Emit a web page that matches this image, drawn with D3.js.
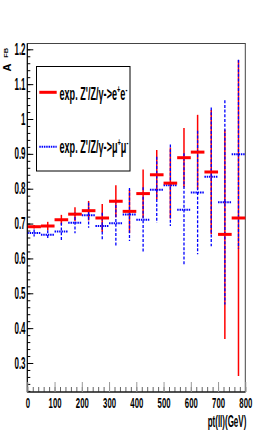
<!DOCTYPE html>
<html>
<head>
<meta charset="utf-8">
<script src="https://cdn.jsdelivr.net/npm/d3@7"></script>
<style>
  html, body { margin: 0; padding: 0; background: #fff; }
  text { font-family: "Liberation Sans", Arial, sans-serif; }
</style>
</head>
<body>
<script>
// bin edges in pt(ll) [GeV]
const binEdges = [0, 50, 100, 150, 200, 250, 300, 350, 400, 450, 500, 550, 600, 650, 700, 750, 800];

// A_FB for Z'/Z/gamma -> e+e-
const eeValues = [0.691, 0.693, 0.711, 0.727, 0.737, 0.716, 0.764, 0.735, 0.786, 0.840, 0.816, 0.889, 0.905, 0.848, 0.669, 0.716];
const eeErrors = [0.005, 0.012, 0.014, 0.020, 0.028, 0.040, 0.046, 0.062, 0.069, 0.071, 0.102, 0.085, 0.107, 0.178, 0.300, 0.453];

// A_FB for Z'/Z/gamma -> mu+mu-
const mmValues = [0.673, 0.668, 0.677, 0.702, 0.724, 0.693, 0.701, 0.726, 0.711, 0.797, 0.810, 0.740, 0.789, 0.834, 0.761, 0.899];
const mmErrors = [0.010, 0.013, 0.025, 0.030, 0.036, 0.038, 0.066, 0.076, 0.093, 0.095, 0.117, 0.162, 0.177, 0.199, 0.293, 0.271];

const xTicks = [0, 100, 200, 300, 400, 500, 600, 700, 800];
const yTicks = [0.3, 0.4, 0.5, 0.6, 0.7, 0.8, 0.9, 1.0, 1.1, 1.2];

const width = 273, height = 436;
const sx = 0.5; // horizontal squeeze of the text

const svg = d3.select('body').append('svg')
  .attr('width', width)
  .attr('height', height);

svg.append('rect').attr('width', width).attr('height', height).attr('fill', '#fff');

const x = d3.scaleLinear().domain([0, 800]).range([27.3, 245.3]);
const y = d3.scaleLinear().domain([0.2168, 1.2166]).range([392, 43.5]);

// frame
svg.append('rect')
  .attr('x', x(0)).attr('y', y.range()[1])
  .attr('width', x(800) - x(0)).attr('height', y.range()[0] - y.range()[1])
  .attr('fill', 'none').attr('stroke', '#444').attr('stroke-width', 1);

const bins = binEdges.slice(0, -1).map((lo, i) => ({
  lo, hi: binEdges[i + 1], c: (lo + binEdges[i + 1]) / 2,
  ee: eeValues[i], eeErr: eeErrors[i],
  mm: mmValues[i], mmErr: mmErrors[i]
}));

// red vertical errors
svg.append('g').selectAll('line').data(bins).join('line')
  .attr('x1', d => x(d.c)).attr('x2', d => x(d.c))
  .attr('y1', d => y(d.ee + d.eeErr)).attr('y2', d => y(d.ee - d.eeErr))
  .attr('stroke', '#ff0000').attr('stroke-width', 1.5);

// blue vertical errors
svg.append('g').selectAll('line').data(bins).join('line')
  .attr('x1', d => x(d.c)).attr('x2', d => x(d.c))
  .attr('y1', d => y(d.mm + d.mmErr)).attr('y2', d => y(d.mm - d.mmErr))
  .attr('stroke', '#0000ff').attr('stroke-width', 1.3)
  .attr('stroke-dasharray', '3,1.7');

// blue bin bars
svg.append('g').selectAll('line').data(bins).join('line')
  .attr('x1', d => x(d.lo)).attr('x2', d => x(d.hi))
  .attr('y1', d => y(d.mm)).attr('y2', d => y(d.mm))
  .attr('stroke', '#0000ff').attr('stroke-width', 2)
  .attr('stroke-dasharray', '1.5,0.8');

// red bin bars
svg.append('g').selectAll('line').data(bins).join('line')
  .attr('x1', d => x(d.lo)).attr('x2', d => x(d.hi))
  .attr('y1', d => y(d.ee)).attr('y2', d => y(d.ee))
  .attr('stroke', '#ff0000').attr('stroke-width', 3);

// y axis, ticks pointing inward
const yMinor = d3.range(0.22, 1.2001, 0.02);
svg.append('g')
  .attr('transform', `translate(${x(0)},0)`)
  .call(d3.axisLeft(y).tickValues(yMinor).tickSize(-3).tickFormat(''))
  .call(g => g.select('.domain').remove())
  .call(g => g.selectAll('line').attr('stroke', '#000'));
const yAx = svg.append('g')
  .attr('transform', `translate(${x(0)},0)`)
  .call(d3.axisLeft(y).tickValues(yTicks).tickSize(-6).tickPadding(0)
    .tickFormat(d => d3.format('.1f')(d).replace(/\.0$/, '')));
yAx.select('.domain').attr('stroke', '#000').attr('d', `M0,${y.range()[0]}V${y.range()[1]}`);
yAx.selectAll('text')
  .attr('font-size', 16).attr('font-weight', 'bold').attr('fill', '#000')
  .attr('x', -3.5)
  .attr('transform', `scale(${sx},1)`);

// x axis
const xMinor = d3.range(0, 801, 20);
svg.append('g')
  .attr('transform', `translate(0,${y.range()[0]})`)
  .call(d3.axisBottom(x).tickValues(xMinor).tickSize(-5).tickFormat(''))
  .call(g => g.select('.domain').remove())
  .call(g => g.selectAll('line').attr('stroke', '#666'));
const xAx = svg.append('g')
  .attr('transform', `translate(0,${y.range()[0]})`)
  .call(d3.axisBottom(x).tickValues(xTicks).tickSize(-10).tickPadding(5).tickFormat(d3.format('d')));
xAx.select('.domain').attr('stroke', '#000').attr('d', `M${x(0)},0H${x(800)}`);
xAx.selectAll('line').attr('stroke', '#999');
xAx.selectAll('text')
  .attr('font-size', 15.5).attr('font-weight', 'bold').attr('fill', '#000')
  .attr('transform', `scale(${sx},1)`);

// x title
svg.append('text')
  .attr('transform', `translate(${x(800) + 1},427) scale(${sx},1)`)
  .attr('text-anchor', 'end')
  .attr('font-size', 16).attr('font-weight', 'bold')
  .text('pt(ll)(GeV)');

// y title A_FB (rotated)
svg.append('text')
  .attr('transform', 'translate(10.5,71.5) rotate(-90)')
  .attr('font-size', 11).attr('font-weight', 'bold')
  .text('A');
svg.append('text')
  .attr('transform', 'translate(8.3,57.7) rotate(-90)')
  .attr('font-size', 4.8).attr('font-weight', 'bold')
  .attr('textLength', 10).attr('lengthAdjust', 'spacingAndGlyphs')
  .text('FB');

// legend
const legendEntries = [
  { label: 'exp. Z\'/Z/\u03b3->e', sup1: '+', mid: 'e', sup2: '-', color: '#ff0000', dash: null, w: 3, ly: 92.3, ty: 100 },
  { label: 'exp. Z\'/Z/\u03b3->\u03bc', sup1: '+', mid: '\u03bc', sup2: '-', color: '#0000ff', dash: '1.5,0.8', w: 2, ly: 146.7, ty: 153.3 }
];
svg.append('rect')
  .attr('x', 36.5).attr('y', 66.5).attr('width', 93.5).attr('height', 104.5)
  .attr('fill', '#fff').attr('stroke', '#000').attr('stroke-width', 1);
const leg = svg.append('g');
legendEntries.forEach(e => {
  leg.append('line')
    .attr('x1', 39.3).attr('x2', 56.7).attr('y1', e.ly).attr('y2', e.ly)
    .attr('stroke', e.color).attr('stroke-width', e.w)
    .attr('stroke-dasharray', e.dash);
  const t = leg.append('text')
    .attr('transform', `translate(59.5,${e.ty}) scale(0.52,1)`)
    .attr('font-size', 17.5).attr('font-weight', 'bold');
  t.append('tspan').text(e.label);
  t.append('tspan').attr('font-size', 11).attr('dy', -7).text(e.sup1);
  t.append('tspan').attr('dy', 7).text(e.mid);
  t.append('tspan').attr('font-size', 11).attr('dy', -7).text(e.sup2);
});
</script>
</body>
</html>
